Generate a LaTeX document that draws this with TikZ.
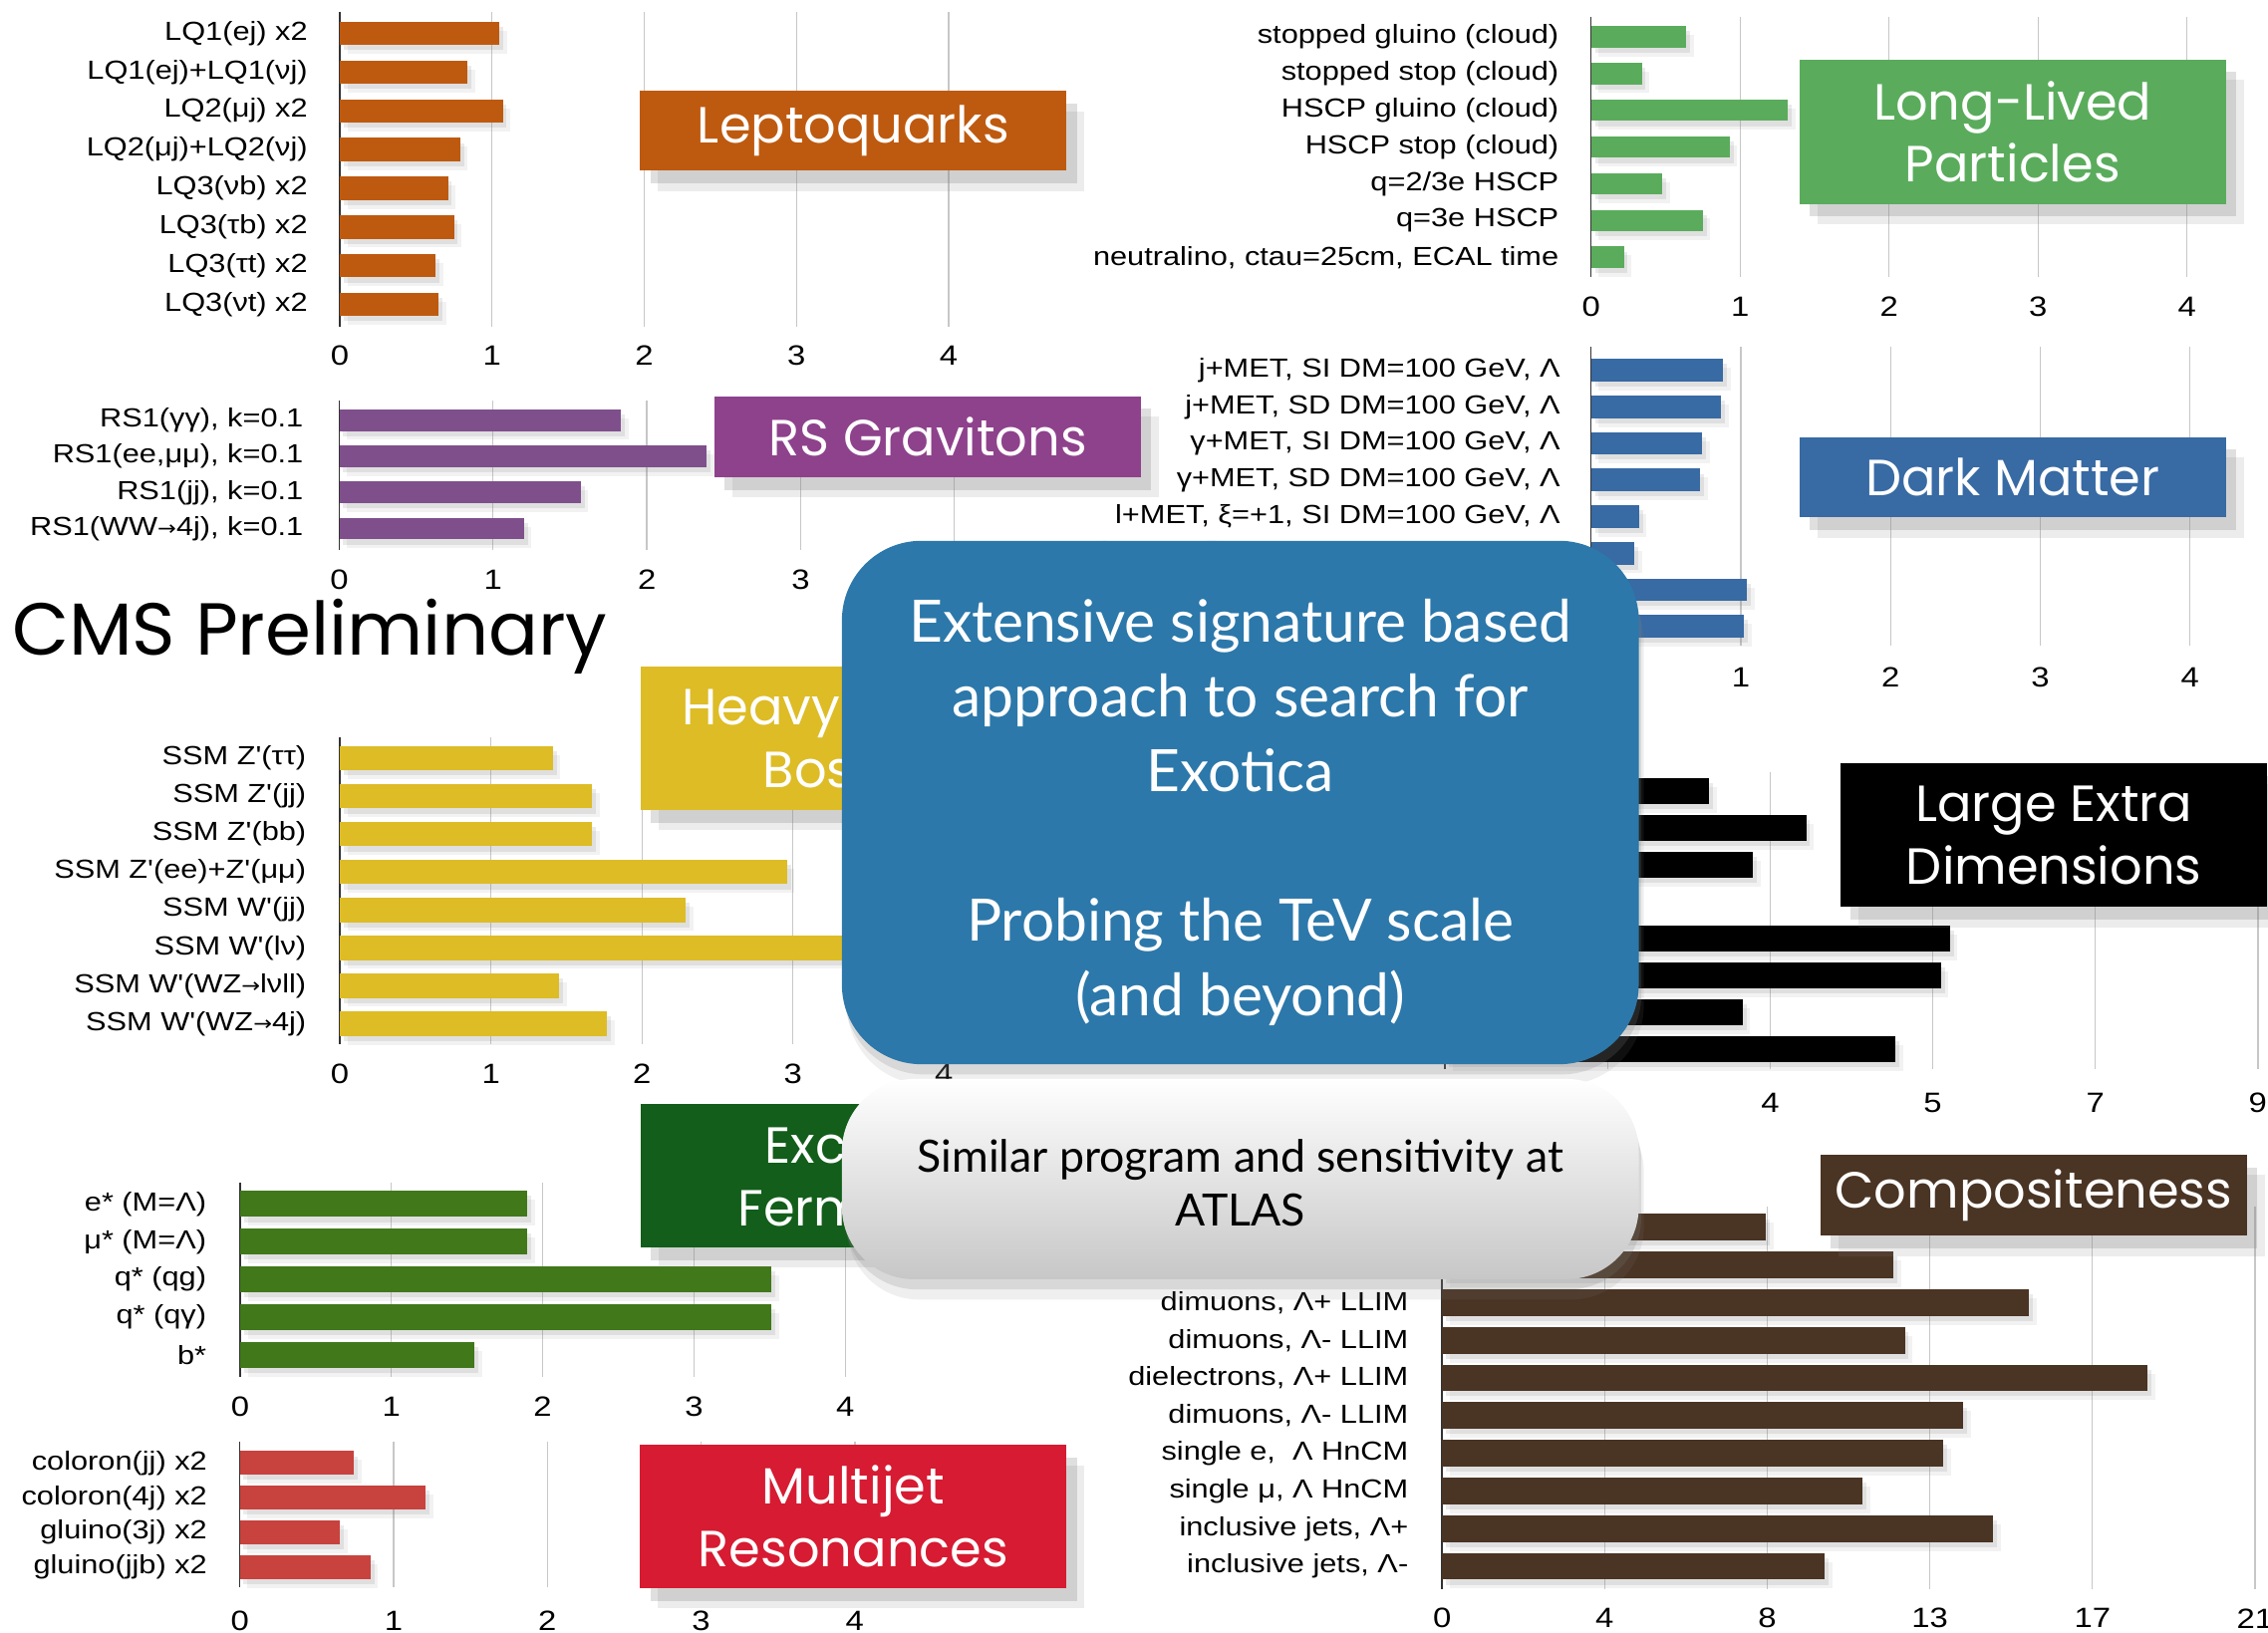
\documentclass[tikz,border=0pt]{standalone}
\usepackage{fontspec}
\usepackage{xcolor}
\usetikzlibrary{shadows}
\setmainfont{Liberation Sans}
\newfontfamily\lblfamily[FakeStretch=1.17]{Liberation Sans}
\newfontfamily\arrfamily[FakeStretch=1.1]{DejaVu Sans}
\newfontfamily\ttlfamily{Poppins}
\newfontfamily\pitchfamily{Lato}
\definecolor{lqColor}{RGB}{190,90,15}
\definecolor{llpColor}{RGB}{90,172,92}
\definecolor{rsColor}{RGB}{142,66,140}
\definecolor{rsBar}{RGB}{127,79,140}
\definecolor{dmColor}{RGB}{56,106,164}
\definecolor{hbColor}{RGB}{221,188,38}
\definecolor{exColor}{RGB}{18,94,26}
\definecolor{exBar}{RGB}{64,120,26}
\definecolor{coColor}{RGB}{74,52,36}
\definecolor{mjColor}{RGB}{214,27,50}
\definecolor{mjBar}{RGB}{200,66,62}
\definecolor{pitchColor}{RGB}{44,120,170}
\newcommand{\lblfont}{\lblfamily\fontsize{10.3}{12}\selectfont}
\newcommand{\tickfont}{\lblfamily\fontsize{11}{13}\selectfont}
\newcommand{\ttlfont}{\ttlfamily\fontsize{20}{24.5}\selectfont}
\newcommand{\cmsfont}{\ttlfamily\fontsize{29}{34}\selectfont}
\newcommand{\pitchfont}{\pitchfamily\fontsize{23}{29.4}\selectfont}
\newcommand{\atlasfont}{\pitchfamily\fontsize{17.5}{20.9}\selectfont}
\newcommand{\decay}{{\arrfamily\fontsize{8}{10}\selectfont→}}

\begin{document}
\begin{tikzpicture}[
    x=0.02cm, y=-0.02cm,
    gridln/.style={draw=black!22, line width=0.5pt},
    axisln/.style={draw=black!80, line width=0.6pt},
    lbl/.style={anchor=east, inner sep=0pt, font=\lblfont},
    ticklbl/.style={inner sep=0pt, font=\tickfont},
    barshade/.style={drop shadow={opacity=.16, shadow xshift=1.5pt, shadow yshift=-2pt},
                     drop shadow={opacity=.10, shadow xshift=3pt, shadow yshift=-3.5pt}},
    headbox/.style={fill=#1, text=white, align=center, font=\ttlfont, minimum width=5.9cm, inner sep=0pt,
                    drop shadow={opacity=.25, shadow xshift=4pt, shadow yshift=-5pt},
                    drop shadow={opacity=.15, shadow xshift=7pt, shadow yshift=-8pt}},
    bigbox/.style={minimum width=11.02cm, rounded corners=1.1cm, inner sep=0pt,
                   drop shadow={opacity=.2, shadow xshift=1pt, shadow yshift=-4pt},
                   drop shadow={opacity=.12, shadow xshift=2pt, shadow yshift=-8pt}},
    boxtext/.style={align=center, inner sep=0pt}
  ]
  \useasboundingbox (0,0) rectangle (1568,1129);
  \fill[white] (0,0) rectangle (1568,1129);

  \foreach \k in {1,...,4} \draw[gridln] ({235+105.2*\k},8) -- ({235+105.2*\k},226);
  \draw[axisln] (235,8) -- (235,226);
  \foreach \k in {0,...,4} \node[ticklbl] (lqx\k) at ({235+105.2*\k},246) {\k};
  \foreach \v/\lbl [count=\i from 0] in {1.05/{LQ1(ej) x2}, 0.84/{LQ1(ej)+LQ1(νj)}, 1.07/{LQ2(μj) x2},
      0.79/{LQ2(μj)+LQ2(νj)}, 0.71/{LQ3(νb) x2}, 0.75/{LQ3(τb) x2}, 0.63/{LQ3(τt) x2}, 0.65/{LQ3(νt) x2}}{
    \pgfmathsetmacro\yy{23+26.8*\i}
    \fill[lqColor, barshade] (235,{\yy-8}) rectangle ({235+105.2*\v},{\yy+8});
    \node[lbl] (lq\i) at (213,\yy) {\lbl};
  }

  \foreach \k in {1,...,4} \draw[gridln] ({1100+103*\k},11.5) -- ({1100+103*\k},191.7);
  \draw[axisln] (1100,11.5) -- (1100,191.7);
  \foreach \k in {0,...,4} \node[ticklbl] (llx\k) at ({1100+103*\k},212) {\k};
  \foreach \v/\lbl [count=\i from 0] in {0.64/{stopped gluino (cloud)}, 0.34/{stopped stop (cloud)},
      1.32/{HSCP gluino (cloud)}, 0.93/{HSCP stop (cloud)}, 0.48/{q=2/3e HSCP}, 0.75/{q=3e HSCP},
      0.22/{neutralino, ctau=25cm, ECAL time}}{
    \pgfmathsetmacro\yy{25.3+25.45*\i}
    \fill[llpColor, barshade] (1100,{\yy-7.5}) rectangle ({1100+103*\v},{\yy+7.5});
    \node[lbl] (ll\i) at (1078,\yy) {\lbl};
  }

  \foreach \k in {1,...,4} \draw[gridln] ({234.6+106.3*\k},277) -- ({234.6+106.3*\k},380);
  \draw[axisln] (234.6,277) -- (234.6,380);
  \foreach \k in {0,...,3} \node[ticklbl] (rsx\k) at ({234.6+106.3*\k},400.7) {\k};
  \foreach \v/\lbl [count=\i from 0] in {1.83/{RS1(γγ), k=0.1}, 2.39/{RS1(ee,μμ), k=0.1},
      1.57/{RS1(jj), k=0.1}, 1.2/{RS1(WW\decay4j), k=0.1}}{
    \pgfmathsetmacro\yy{290.5+25*\i}
    \fill[rsBar, barshade] (234.6,{\yy-7.5}) rectangle ({234.6+106.3*\v},{\yy+7.5});
    \node[lbl] (rs\i) at (210,\yy) {\lbl};
  }

  \foreach \k in {1,...,4} \draw[gridln] ({1100+103.5*\k},240) -- ({1100+103.5*\k},446.5);
  \draw[axisln] (1100,240) -- (1100,446.5);
  \foreach \k in {1,...,4} \node[ticklbl] (dmx\k) at ({1100+103.5*\k},468.5) {\k};
  \foreach \v/\lbl [count=\i from 0] in {0.88/{j+MET, SI DM=100 GeV, Λ}, 0.87/{j+MET, SD DM=100 GeV, Λ},
      0.74/{γ+MET, SI DM=100 GeV, Λ}, 0.73/{γ+MET, SD DM=100 GeV, Λ}, 0.32/{l+MET, ξ=+1, SI DM=100 GeV, Λ},
      0.29/{l+MET, ξ=+1, SD DM=100 GeV, Λ}, 1.04/{}, 1.02/{}}{
    \pgfmathsetmacro\yy{256+25.3*\i}
    \fill[dmColor, barshade] (1100,{\yy-7.8}) rectangle ({1100+103.5*\v},{\yy+7.8});
    \node[lbl] (dm\i) at (1079,\yy) {\lbl};
  }

  \foreach \k in {1,...,4} \draw[gridln] ({235+104.4*\k},510) -- ({235+104.4*\k},722);
  \draw[axisln] (235,510) -- (235,722);
  \foreach \k in {0,...,4} \node[ticklbl] (hbx\k) at ({235+104.4*\k},742.7) {\k};
  \foreach \v/\lbl [count=\i from 0] in {1.41/{SSM Z'(ττ)}, 1.67/{SSM Z'(jj)}, 1.67/{SSM Z'(bb)},
      2.96/{SSM Z'(ee)+Z'(μμ)}, 2.29/{SSM W'(jj)}, 3.5/{SSM W'(lν)}, 1.45/{SSM W'(WZ\decay lνll)},
      1.77/{SSM W'(WZ\decay4j)}}{
    \pgfmathsetmacro\yy{524.3+26.2*\i}
    \fill[hbColor, barshade] (235,{\yy-8.5}) rectangle ({235+104.4*\v},{\yy+8.5});
    \node[lbl] (hb\i) at (212,\yy) {\lbl};
  }

  \foreach \k in {1,...,5} \draw[gridln] ({999+112.4*\k},534) -- ({999+112.4*\k},739);
  \draw[axisln] (999,534) -- (999,739);
  \foreach \t/\k in {4/2, 5/3, 7/4, 9/5} \node[ticklbl] (ldx\k) at ({999+112.4*\k},762.4) {\t};
  \foreach \e [count=\i from 0] in {1181.6, 1248.7, 1212, 1100, 1348, 1341.9, 1204.8, 1310.6}{
    \pgfmathsetmacro\yy{547+25.5*\i}
    \fill[black, barshade] (999,{\yy-9}) rectangle (\e,{\yy+9});
  }

  \foreach \k in {1,...,4} \draw[gridln] ({166+104.6*\k},817.5) -- ({166+104.6*\k},952);
  \draw[axisln] (166,817.5) -- (166,952);
  \foreach \k in {0,...,4} \node[ticklbl] (efx\k) at ({166+104.6*\k},972.6) {\k};
  \foreach \v/\lbl [count=\i from 0] in {1.90/{e* (M=Λ)}, 1.90/{μ* (M=Λ)}, 3.51/{q* (qg)}, 3.51/{q* (qγ)}, 1.55/{b*}}{
    \pgfmathsetmacro\yy{832.5+26.1*\i}
    \fill[exBar, barshade] (166,{\yy-9}) rectangle ({166+104.6*\v},{\yy+9});
    \node[lbl] (ef\i) at (143,\yy) {\lbl};
  }

  \foreach \k in {1,...,5} \draw[gridln] ({997+112.4*\k},834) -- ({997+112.4*\k},1099);
  \draw[axisln] (997,834) -- (997,1099);
  \foreach \t [count=\k from 0] in {0,4,8,13,17,21} \node[ticklbl] (cox\k) at ({997+112.4*\k},1119) {\t};
  \foreach \e/\lbl [count=\i from 0] in {1220.8/{}, 1309.2/{}, 1402.7/{dimuons, Λ+ LLIM},
      1316.9/{dimuons, Λ- LLIM}, 1484.9/{dielectrons, Λ+ LLIM}, 1357.2/{dimuons, Λ- LLIM},
      1343.3/{single e,\ \ Λ HnCM}, 1287.5/{single μ, Λ HnCM}, 1377.9/{inclusive jets, Λ+},
      1261.5/{inclusive jets, Λ-}}{
    \pgfmathsetmacro\yy{848.6+26.05*\i}
    \fill[coColor, barshade] (997,{\yy-9.2}) rectangle (\e,{\yy+9.2});
    \node[lbl] (co\i) at (974,\yy) {\lbl};
  }

  \foreach \k in {1,...,4} \draw[gridln] ({165.8+106.3*\k},996.7) -- ({165.8+106.3*\k},1097.6);
  \draw[axisln] (165.8,996.7) -- (165.8,1097.6);
  \foreach \k in {0,...,4} \node[ticklbl] (mjx\k) at ({165.8+106.3*\k},1120.7) {\k};
  \foreach \v/\lbl [count=\i from 0] in {0.74/{coloron(jj) x2}, 1.21/{coloron(4j) x2},
      0.65/{gluino(3j) x2}, 0.85/{gluino(jjb) x2}}{
    \pgfmathsetmacro\yy{1011.6+24*\i}
    \fill[mjBar, barshade] (165.8,{\yy-8.2}) rectangle ({165.8+106.3*\v},{\yy+8.2});
    \node[lbl] (mj\i) at (143.5,\yy) {\lbl};
  }

  \node[headbox=lqColor, minimum height=1.1cm] (lepto) at (590,90.5) {Leptoquarks};
  \node[headbox=llpColor, minimum height=2cm] (longlived) at (1391.5,91) {Long-Lived\\Particles};
  \node[headbox=rsColor, minimum height=1.12cm] (rsgrav) at (641.5,302) {RS Gravitons};
  \node[headbox=dmColor, minimum height=1.11cm] (darkmatter) at (1391.5,330) {Dark Matter};
  \node[headbox=hbColor, minimum height=1.98cm] (heavybos) at (590.5,510.5) {Heavy Gauge\\Bosons};
  \node[headbox=black, minimum height=1.98cm] (extradim) at (1420,577.5) {Large Extra\\Dimensions};
  \node[headbox=exColor, minimum height=1.99cm] (excited) at (590.5,812.75) {Excited\\Fermions};
  \node[headbox=coColor, minimum height=1.12cm] (compos) at (1406,826.4) {Compositeness};
  \node[headbox=mjColor, minimum height=1.98cm] (multijet) at (590,1048.5) {Multijet\\Resonances};

  \node[anchor=base west, inner sep=0pt, font=\cmsfont] (cms) at (8,453) {CMS Preliminary};

  \node[bigbox, fill=pitchColor, minimum height=7.24cm] (pitch) at (857.5,554.9) {};
  \node[boxtext, text=white, font=\pitchfont] (pitchtext) at (857.5,562)
    {Extensive signature based\\approach to search for\\Exotica\\[29.4pt]Probing the TeV scale\\(and beyond)};
  \node[bigbox, top color=white, bottom color=black!22, minimum height=2.77cm, rounded corners=1cm] (atlas)
    at (857.5,815.3) {};
  \node[boxtext, text=black, font=\atlasfont] (atlastext) at (857.5,818) {Similar program and sensitivity at\\ATLAS};
\end{tikzpicture}
\end{document}
